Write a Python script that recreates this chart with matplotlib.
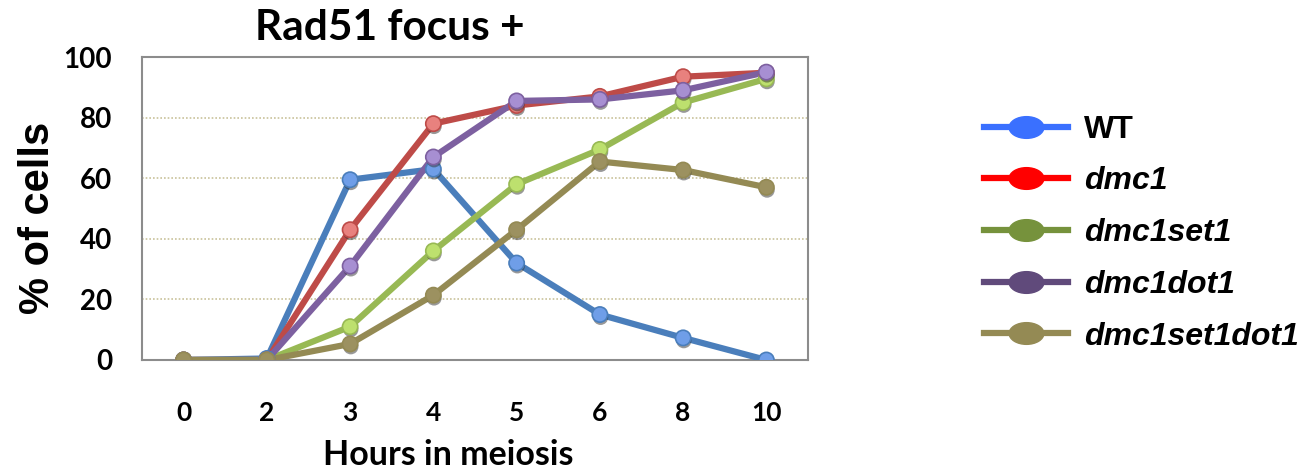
import matplotlib
matplotlib.use("Agg")
import matplotlib.pyplot as plt
from matplotlib.lines import Line2D
from matplotlib.path import Path
from matplotlib.transforms import Affine2D
import matplotlib.patheffects as pe

hours = ["0", "2", "3", "4", "5", "6", "8", "10"]
series_names = ["WT", "dmc1", "dmc1set1", "dmc1dot1", "dmc1set1dot1"]
wt = [0, 0.5, 59.5, 63, 32, 15, 7.3, 0]
dmc1 = [0, 0, 43, 78, 84, 87, 93.5, 94.8]
dmc1set1 = [0, 0, 11, 36, 58, 69.5, 85, 92.8]
dmc1dot1 = [0, 0, 31, 67, 85.5, 86, 89, 95]
dmc1set1dot1 = [0, 0, 5.3, 21.4, 43, 65.5, 62.7, 57]
values = [wt, dmc1, dmc1set1, dmc1dot1, dmc1set1dot1]

line_colors = ["#4a7ebb", "#be4b48", "#98b954", "#7d60a0", "#948a54"]
face_colors = ["#6f9ee8", "#e8817e", "#bde06e", "#a78fd2", "#9c9160"]
legend_colors = ["#3a70ff", "#ff0000", "#76923c", "#604a7b", "#948a54"]

fig = plt.figure(figsize=(13.12, 4.76), dpi=100)
ax = fig.add_axes([142/1312, 1-360/476, 666/1312, 303/476])

x = list(range(len(hours)))
for vals, lc, fc in zip(values, line_colors, face_colors):
    ax.plot(x, vals, color=lc, lw=4.5, zorder=3, solid_capstyle="round")
    ax.plot(x, vals, ls="none", marker="o", ms=11, mfc=fc, mec=lc, mew=1.2, zorder=4,
            path_effects=[pe.SimplePatchShadow(offset=(0.5, -2), shadow_rgbFace="#333333", alpha=0.5), pe.Normal()])

ax.set_xlim(-0.5, len(hours) - 0.5)
ax.set_ylim(0, 100)
ax.set_yticks([0, 20, 40, 60, 80, 100])
ax.set_xticks(x)
ax.set_xticklabels(hours)
ax.tick_params(length=0)
ax.tick_params(axis="y", pad=21.5, labelsize=20)
ax.tick_params(axis="x", pad=29.5, labelsize=19)
for lab in ax.get_xticklabels() + ax.get_yticklabels():
    lab.set_fontfamily("Lato")
    lab.set_fontweight("bold")
for yv in [20, 40, 60, 80]:
    ax.axhline(yv, color="#c9c29b", lw=1.2, ls=(0, (1, 1.2)), zorder=1)
for s in ax.spines.values():
    s.set_color("#8c8c8c")
    s.set_linewidth(1.5)

ax.set_title("Rad51 focus +", fontfamily="Lato", fontweight="bold", fontsize=30.5,
             x=(390-142)/666, y=1.03)
ax.text((38-142)/666, (360-218)/303, "% of cells", transform=ax.transAxes, rotation=90,
        ha="center", va="center", fontfamily="Liberation Sans", fontweight="bold", fontsize=30)
ax.text((448-142)/666, -(455-360)/303, "Hours in meiosis", transform=ax.transAxes,
        ha="center", va="center", fontfamily="Lato", fontweight="bold", fontsize=24.5)

ell = Path.unit_circle().transformed(Affine2D().scale(1.6, 1.0))
handles = [Line2D([0], [0], color=c, lw=4.5, marker=ell, ms=25, mfc=c, mec=c)
           for c in legend_colors]
leg = fig.legend(handles, series_names, loc="upper left",
                 bbox_to_anchor=(955/1312, 1-86/476), frameon=False,
                 handlelength=2.63, handletextpad=0.5, labelspacing=0.68,
                 prop={"family": "Liberation Sans", "weight": "bold", "size": 23})
for i, t in enumerate(leg.get_texts()):
    if i > 0:
        t.set_fontstyle("italic")

fig.savefig("out.png", dpi=100)
